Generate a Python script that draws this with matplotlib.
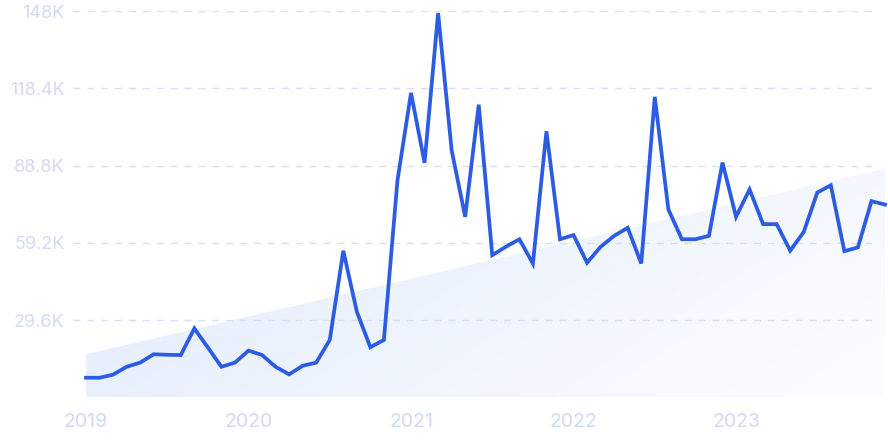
import numpy as np
import matplotlib.pyplot as plt
from matplotlib.colors import LinearSegmentedColormap
from matplotlib.patches import Polygon

# monthly values, Jan 2019 .. Dec 2023 (thousands)
values = [7.5, 7.5, 8.7, 11.7, 13.3, 16.5, 16.3, 16.2, 26.4, 19.1, 11.7, 13.3,
          17.9, 16.2, 11.7, 8.8, 12.1, 13.3, 22.0, 56.2, 32.8, 19.2, 22.0, 83.2,
          116.7, 89.9, 147.3, 94.7, 69.2, 112.2, 54.5, 57.7, 60.6, 51.3, 102.0, 60.6,
          62.2, 51.6, 57.7, 61.9, 65.0, 51.3, 115.2, 72.1, 60.6, 60.6, 61.9, 90.0,
          69.2, 79.7, 66.4, 66.4, 56.2, 63.4, 78.5, 81.3, 56.0, 57.5, 75.2, 73.9]
trend_start = 16.5
trend_end = 87.7
years = ["2019", "2020", "2021", "2022", "2023"]
ytick_vals = [29.6, 59.2, 88.8, 118.4, 148]
ytick_labels = ["29.6K", "59.2K", "88.8K", "118.4K", "148K"]

W, H = 888, 443
fig = plt.figure(figsize=(W / 100, H / 100), dpi=100)
ax_left, ax_right = 73, 888
ax_bottom, ax_top = 443 - 397.3, 443 - 11.3
ax = fig.add_axes([ax_left / W, ax_bottom / H, (ax_right - ax_left) / W, (ax_top - ax_bottom) / H])

n = len(values)
x = np.arange(n)
pxm = (885 - 86) / (n - 1)
ax.set_xlim(-(86 - ax_left) / pxm, (n - 1) + (ax_right - 885) / pxm)
ax.set_ylim(0, 148)

# trend area with gradient
poly = Polygon([(0, 0), (0, trend_start), (n - 1, trend_end), (n - 1, 0)], closed=True,
               facecolor="none", edgecolor="none")
ax.add_patch(poly)
gx, gy = np.meshgrid(np.linspace(0, 1, 300), np.linspace(1, 0, 100))
t = np.clip(0.8 * gx + 0.35 * (1 - gy) - 0.05, 0, 1)
cmap = LinearSegmentedColormap.from_list("g", ["#e0ebfb", "#eef4fd", "#fbfcff"])
im = ax.imshow(t, extent=[0, n - 1, 0, trend_end], aspect="auto", cmap=cmap,
               vmin=0, vmax=1, zorder=1, origin="upper")
im.set_clip_path(poly)

# grid lines
x_end = (878 - 86) / pxm
for v in ytick_vals:
    ax.plot([ax.get_xlim()[0], x_end], [v, v], color="#d4e0f7", lw=1,
            dashes=(5, 5), zorder=2)

ax.plot(x, values, color="#2d5ce4", lw=2.7, zorder=3, clip_on=False,
        solid_joinstyle="miter")

for s in ax.spines.values():
    s.set_visible(False)
ax.set_yticks(ytick_vals)
ax.set_yticklabels(ytick_labels)
ax.set_xticks(np.arange(0, n, 12))
ax.set_xticklabels(years)
ax.tick_params(axis="y", length=0, pad=6, labelsize=13, labelcolor="#d2dbf3")
ax.tick_params(axis="x", length=0, pad=11.5, labelsize=14, labelcolor="#d0daf4")
for lab in ax.get_xticklabels() + ax.get_yticklabels():
    lab.set_family("Inter")

fig.savefig("out.png", dpi=100)
